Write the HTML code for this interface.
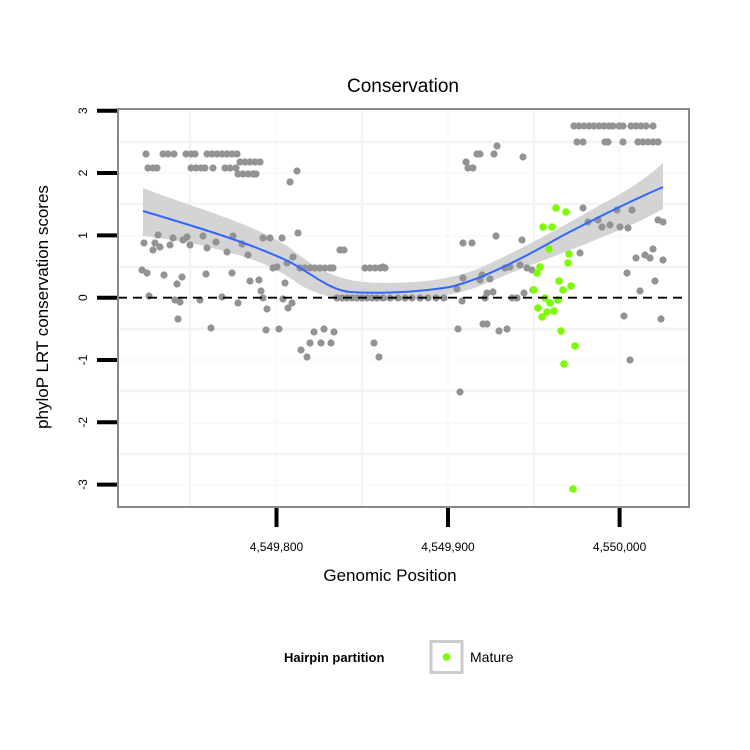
<!DOCTYPE html>
<html><head><meta charset="utf-8"><style>
html,body{margin:0;padding:0;background:#fff;}
svg{display:block;font-family:"Liberation Sans",Arial,sans-serif;}
</style></head><body>
<svg width="750" height="750" viewBox="0 0 750 750">
<rect width="750" height="750" fill="#fff"/>
<text x="403" y="92" font-size="19" text-anchor="middle">Conservation</text>
<!-- grid -->
<g stroke="#f3f3f3" stroke-width="2.5">
<line x1="118" x2="689" y1="142" y2="142"/><line x1="118" x2="689" y1="204" y2="204"/>
<line x1="118" x2="689" y1="267" y2="267"/><line x1="118" x2="689" y1="329" y2="329"/>
<line x1="118" x2="689" y1="391" y2="391"/><line x1="118" x2="689" y1="454" y2="454"/>
<line y1="109" y2="507" x1="190" x2="190"/><line y1="109" y2="507" x1="362" x2="362"/>
<line y1="109" y2="507" x1="534" x2="534"/>
</g>
<g stroke="#f8f8f8" stroke-width="1.5">
<line x1="118" x2="689" y1="111" y2="111"/><line x1="118" x2="689" y1="173" y2="173"/>
<line x1="118" x2="689" y1="236" y2="236"/><line x1="118" x2="689" y1="360" y2="360"/>
<line x1="118" x2="689" y1="423" y2="423"/><line x1="118" x2="689" y1="485" y2="485"/>
<line y1="109" y2="507" x1="276.5" x2="276.5"/><line y1="109" y2="507" x1="448" x2="448"/>
<line y1="109" y2="507" x1="619.6" x2="619.6"/>
</g>
<!-- band -->
<path d="M143,188 C200,210 250,222 290,248 C320,272 340,282 380,283 C420,283 450,280 480,268 C520,250 560,228 600,205 C630,190 650,175 663,163 L663,209 C640,222 620,230 600,238 C560,255 520,268 480,286 C450,297 420,300 380,301 C340,301 320,296 300,285 C270,262 240,255 200,245 C180,241 160,238 143,236 Z" fill="#cccccc" opacity="0.85"/>
<!-- gray points -->
<g fill="#939393">
<circle cx="146" cy="154" r="3.6"/><circle cx="163" cy="154" r="3.6"/><circle cx="168" cy="154" r="3.6"/><circle cx="174" cy="154" r="3.6"/><circle cx="186" cy="154" r="3.6"/><circle cx="191" cy="154" r="3.6"/><circle cx="195" cy="154" r="3.6"/><circle cx="207" cy="154" r="3.6"/><circle cx="212" cy="154" r="3.6"/><circle cx="217" cy="154" r="3.6"/><circle cx="222" cy="154" r="3.6"/><circle cx="227" cy="154" r="3.6"/><circle cx="232" cy="154" r="3.6"/><circle cx="237" cy="154" r="3.6"/>
<circle cx="148" cy="168" r="3.6"/><circle cx="153" cy="168" r="3.6"/><circle cx="157" cy="168" r="3.6"/><circle cx="191" cy="168" r="3.6"/><circle cx="196" cy="168" r="3.6"/><circle cx="201" cy="168" r="3.6"/><circle cx="205" cy="168" r="3.6"/><circle cx="213" cy="168" r="3.6"/><circle cx="225" cy="168" r="3.6"/><circle cx="230" cy="168" r="3.6"/><circle cx="236" cy="168" r="3.6"/>
<circle cx="240" cy="162" r="3.6"/><circle cx="245" cy="162" r="3.6"/><circle cx="250" cy="162" r="3.6"/><circle cx="255" cy="162" r="3.6"/><circle cx="260" cy="162" r="3.6"/>
<circle cx="238" cy="174" r="3.6"/><circle cx="243" cy="174" r="3.6"/><circle cx="248" cy="174" r="3.6"/><circle cx="253" cy="174" r="3.6"/><circle cx="256" cy="174" r="3.6"/>
<circle cx="297" cy="171" r="3.6"/><circle cx="290" cy="182" r="3.6"/>
<circle cx="144" cy="243" r="3.6"/><circle cx="158" cy="235" r="3.6"/><circle cx="155" cy="243" r="3.6"/><circle cx="153" cy="250" r="3.6"/><circle cx="160" cy="247" r="3.6"/><circle cx="170" cy="245" r="3.6"/><circle cx="173" cy="238" r="3.6"/><circle cx="183" cy="240" r="3.6"/><circle cx="187" cy="237" r="3.6"/><circle cx="190" cy="245" r="3.6"/><circle cx="203" cy="236" r="3.6"/><circle cx="207" cy="248" r="3.6"/><circle cx="216" cy="242" r="3.6"/><circle cx="227" cy="252" r="3.6"/><circle cx="233" cy="236" r="3.6"/><circle cx="242" cy="244" r="3.6"/><circle cx="248" cy="255" r="3.6"/><circle cx="263" cy="238" r="3.6"/><circle cx="270" cy="238" r="3.6"/><circle cx="282" cy="238" r="3.6"/><circle cx="298" cy="233" r="3.6"/><circle cx="293" cy="257" r="3.6"/><circle cx="287" cy="263" r="3.6"/><circle cx="273" cy="268" r="3.6"/><circle cx="277" cy="267" r="3.6"/>
<circle cx="300" cy="268" r="3.6"/><circle cx="305" cy="268" r="3.6"/><circle cx="310" cy="268" r="3.6"/><circle cx="315" cy="268" r="3.6"/><circle cx="320" cy="268" r="3.6"/><circle cx="325" cy="268" r="3.6"/><circle cx="330" cy="268" r="3.6"/><circle cx="333" cy="268" r="3.6"/>
<circle cx="340" cy="250" r="3.6"/><circle cx="344" cy="250" r="3.6"/>
<circle cx="365" cy="268" r="3.6"/><circle cx="370" cy="268" r="3.6"/><circle cx="375" cy="268" r="3.6"/><circle cx="380" cy="268" r="3.6"/><circle cx="385" cy="268" r="3.6"/>
<circle cx="142" cy="270" r="3.6"/><circle cx="147" cy="273" r="3.6"/><circle cx="164" cy="275" r="3.6"/><circle cx="182" cy="277" r="3.6"/><circle cx="177" cy="284" r="3.6"/><circle cx="206" cy="274" r="3.6"/><circle cx="232" cy="273" r="3.6"/><circle cx="250" cy="281" r="3.6"/><circle cx="259" cy="280" r="3.6"/><circle cx="285" cy="283" r="3.6"/><circle cx="261" cy="291" r="3.6"/><circle cx="149" cy="296" r="3.6"/><circle cx="175" cy="300" r="3.6"/><circle cx="180" cy="302" r="3.6"/><circle cx="200" cy="300" r="3.6"/><circle cx="222" cy="297" r="3.6"/><circle cx="238" cy="303" r="3.6"/><circle cx="263" cy="298" r="3.6"/><circle cx="267" cy="309" r="3.6"/><circle cx="283" cy="299" r="3.6"/><circle cx="288" cy="308" r="3.6"/><circle cx="292" cy="303" r="3.6"/>
<circle cx="337" cy="298" r="3.6"/><circle cx="342" cy="298" r="3.6"/><circle cx="347" cy="298" r="3.6"/><circle cx="352" cy="298" r="3.6"/><circle cx="357" cy="298" r="3.6"/><circle cx="362" cy="298" r="3.6"/><circle cx="367" cy="298" r="3.6"/><circle cx="372" cy="298" r="3.6"/><circle cx="377" cy="298" r="3.6"/><circle cx="383" cy="298" r="3.6"/><circle cx="390" cy="298" r="3.6"/><circle cx="398" cy="298" r="3.6"/><circle cx="405" cy="298" r="3.6"/><circle cx="412" cy="298" r="3.6"/><circle cx="420" cy="298" r="3.6"/><circle cx="428" cy="298" r="3.6"/><circle cx="436" cy="298" r="3.6"/><circle cx="444" cy="298" r="3.6"/>
<circle cx="178" cy="319" r="3.6"/><circle cx="211" cy="328" r="3.6"/><circle cx="266" cy="330" r="3.6"/><circle cx="279" cy="329" r="3.6"/><circle cx="314" cy="332" r="3.6"/><circle cx="324" cy="329" r="3.6"/><circle cx="334" cy="332" r="3.6"/><circle cx="310" cy="343" r="3.6"/><circle cx="321" cy="343" r="3.6"/><circle cx="331" cy="343" r="3.6"/><circle cx="301" cy="350" r="3.6"/><circle cx="307" cy="357" r="3.6"/><circle cx="374" cy="343" r="3.6"/><circle cx="379" cy="357" r="3.6"/>
<circle cx="458" cy="329" r="3.6"/><circle cx="460" cy="392" r="3.6"/><circle cx="483" cy="324" r="3.6"/><circle cx="487" cy="324" r="3.6"/><circle cx="499" cy="331" r="3.6"/><circle cx="507" cy="329" r="3.6"/>
<circle cx="383" cy="267" r="3.6"/><circle cx="463" cy="243" r="3.6"/><circle cx="472" cy="243" r="3.6"/><circle cx="496" cy="236" r="3.6"/><circle cx="522" cy="240" r="3.6"/><circle cx="457" cy="289" r="3.6"/><circle cx="462" cy="301" r="3.6"/><circle cx="463" cy="278" r="3.6"/><circle cx="482" cy="275" r="3.6"/><circle cx="480" cy="280" r="3.6"/><circle cx="490" cy="279" r="3.6"/><circle cx="505" cy="268" r="3.6"/><circle cx="510" cy="267" r="3.6"/><circle cx="520" cy="265" r="3.6"/><circle cx="527" cy="268" r="3.6"/><circle cx="532" cy="270" r="3.6"/><circle cx="487" cy="293" r="3.6"/><circle cx="493" cy="292" r="3.6"/><circle cx="485" cy="298" r="3.6"/><circle cx="512" cy="298" r="3.6"/><circle cx="517" cy="298" r="3.6"/><circle cx="524" cy="293" r="3.6"/><circle cx="533" cy="290" r="3.6"/>
<circle cx="497" cy="146" r="3.6"/><circle cx="477" cy="154" r="3.6"/><circle cx="480" cy="154" r="3.6"/><circle cx="494" cy="154" r="3.6"/><circle cx="466" cy="162" r="3.6"/><circle cx="468" cy="168" r="3.6"/><circle cx="473" cy="168" r="3.6"/><circle cx="523" cy="157" r="3.6"/>
<circle cx="574" cy="126" r="3.6"/><circle cx="579" cy="126" r="3.6"/><circle cx="584" cy="126" r="3.6"/><circle cx="589" cy="126" r="3.6"/><circle cx="594" cy="126" r="3.6"/><circle cx="599" cy="126" r="3.6"/><circle cx="604" cy="126" r="3.6"/><circle cx="609" cy="126" r="3.6"/><circle cx="613" cy="126" r="3.6"/><circle cx="619" cy="126" r="3.6"/><circle cx="623" cy="126" r="3.6"/><circle cx="631" cy="126" r="3.6"/><circle cx="636" cy="126" r="3.6"/><circle cx="641" cy="126" r="3.6"/><circle cx="646" cy="126" r="3.6"/><circle cx="653" cy="126" r="3.6"/>
<circle cx="577" cy="142" r="3.6"/><circle cx="583" cy="142" r="3.6"/><circle cx="605" cy="142" r="3.6"/><circle cx="608" cy="142" r="3.6"/><circle cx="623" cy="142" r="3.6"/><circle cx="638" cy="142" r="3.6"/><circle cx="643" cy="142" r="3.6"/><circle cx="648" cy="142" r="3.6"/><circle cx="653" cy="142" r="3.6"/><circle cx="658" cy="142" r="3.6"/>
<circle cx="583" cy="208" r="3.6"/><circle cx="588" cy="222" r="3.6"/><circle cx="598" cy="220" r="3.6"/><circle cx="602" cy="227" r="3.6"/><circle cx="610" cy="225" r="3.6"/><circle cx="617" cy="210" r="3.6"/><circle cx="620" cy="227" r="3.6"/><circle cx="628" cy="228" r="3.6"/><circle cx="632" cy="210" r="3.6"/><circle cx="580" cy="253" r="3.6"/><circle cx="627" cy="273" r="3.6"/><circle cx="636" cy="258" r="3.6"/><circle cx="645" cy="255" r="3.6"/><circle cx="650" cy="258" r="3.6"/><circle cx="653" cy="249" r="3.6"/><circle cx="663" cy="260" r="3.6"/><circle cx="640" cy="291" r="3.6"/><circle cx="655" cy="281" r="3.6"/><circle cx="658" cy="220" r="3.6"/><circle cx="663" cy="222" r="3.6"/><circle cx="624" cy="316" r="3.6"/><circle cx="661" cy="319" r="3.6"/><circle cx="630" cy="360" r="3.6"/>
</g>
<!-- smooth line -->
<path d="M143,211 C200,228 250,243 290,262 C315,276 330,290 350,292 C380,294 420,292 450,287 C480,280 520,260 560,237 C600,216 640,197 663,187" fill="none" stroke="#3366ff" stroke-width="2"/>
<!-- green points -->
<g fill="#7cfc00">
<circle cx="556" cy="208" r="3.8"/><circle cx="566" cy="212" r="3.8"/><circle cx="543" cy="227" r="3.8"/><circle cx="552" cy="227" r="3.8"/><circle cx="549" cy="249" r="3.8"/><circle cx="569" cy="254" r="3.8"/><circle cx="568" cy="263" r="3.8"/><circle cx="540" cy="267" r="3.8"/><circle cx="537" cy="273" r="3.8"/><circle cx="559" cy="281" r="3.8"/><circle cx="571" cy="286" r="3.8"/><circle cx="563" cy="290" r="3.8"/><circle cx="534" cy="290" r="3.8"/><circle cx="545" cy="298" r="3.8"/><circle cx="558" cy="300" r="3.8"/><circle cx="550" cy="303" r="3.8"/><circle cx="538" cy="308" r="3.8"/><circle cx="547" cy="312" r="3.8"/><circle cx="554" cy="311" r="3.8"/><circle cx="542" cy="317" r="3.8"/><circle cx="561" cy="331" r="3.8"/><circle cx="575" cy="346" r="3.8"/><circle cx="564" cy="364" r="3.8"/><circle cx="573" cy="489" r="3.8"/>
</g>
<line x1="118" x2="689" y1="297.7" y2="297.7" stroke="#000" stroke-width="1.8" stroke-dasharray="9,6"/>
<!-- panel border -->
<rect x="118" y="109" width="571" height="398" fill="none" stroke="#888" stroke-width="2"/>
<!-- ticks -->
<g stroke="#000" stroke-width="4">
<line x1="97" x2="117" y1="110.7" y2="110.7"/><line x1="97" x2="117" y1="173" y2="173"/><line x1="97" x2="117" y1="235.4" y2="235.4"/><line x1="97" x2="117" y1="297.7" y2="297.7"/><line x1="97" x2="117" y1="360" y2="360"/><line x1="97" x2="117" y1="422.3" y2="422.3"/><line x1="97" x2="117" y1="484.6" y2="484.6"/>
<line x1="276.5" x2="276.5" y1="508" y2="527"/><line x1="448" x2="448" y1="508" y2="527"/><line x1="619.6" x2="619.6" y1="508" y2="527"/>
</g>
<g font-size="12" text-anchor="middle">
<text transform="translate(87,110.7) rotate(-90)">3</text>
<text transform="translate(87,173) rotate(-90)">2</text>
<text transform="translate(87,235.4) rotate(-90)">1</text>
<text transform="translate(87,297.7) rotate(-90)">0</text>
<text transform="translate(87,360) rotate(-90)">-1</text>
<text transform="translate(87,422.3) rotate(-90)">-2</text>
<text transform="translate(87,484.6) rotate(-90)">-3</text>
<text x="276.5" y="551">4,549,800</text>
<text x="448" y="551">4,549,900</text>
<text x="619.6" y="551">4,550,000</text>
</g>
<text x="390" y="581" font-size="17" text-anchor="middle">Genomic Position</text>
<text transform="translate(48,307) rotate(-90)" font-size="17" text-anchor="middle">phyloP LRT conservation scores</text>
<!-- legend -->
<text x="284" y="662" font-size="13" font-weight="bold">Hairpin partition</text>
<rect x="431" y="641.5" width="31" height="31" fill="#fff" stroke="#cccccc" stroke-width="3"/>
<circle cx="446.5" cy="657" r="3.8" fill="#7cfc00"/>
<text x="470" y="662" font-size="14">Mature</text>
</svg>
</body></html>
